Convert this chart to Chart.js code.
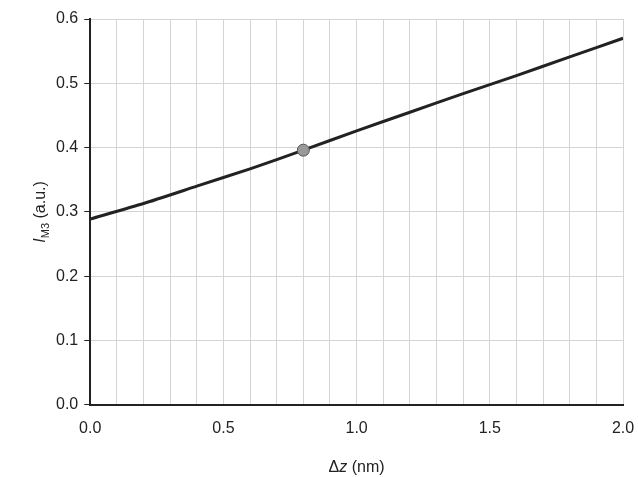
<!DOCTYPE html>
<html><head>
<script src="https://cdn.jsdelivr.net/npm/chart.js@4"></script>
<style>body{margin:0;background:#fff}#c{width:638px;height:477px}</style>
</head><body>
<div id="c"><canvas id="cv" width="638" height="477"></canvas></div>
<script>
const xVals = [0, 0.2, 0.4, 0.6, 0.8, 1.0, 1.2, 1.4, 1.6, 1.8, 2.0];
const yVals = [0.289, 0.313, 0.340, 0.367, 0.396, 0.426, 0.455, 0.484, 0.512, 0.541, 0.570];
const marker = [{x: 0.8, y: 0.396}];

const F = "Liberation Sans, Arial, sans-serif";

const titles = {
  id: "titles",
  afterDraw(c) {
    const g = c.ctx, a = c.chartArea;
    g.save();
    g.fillStyle = "#222";
    // x title
    g.textBaseline = "alphabetic";
    let y = 472, parts = [["Δ", "16px"], ["z", "italic 16px"], [" (nm)", "16px"]];
    let w = 0;
    parts.forEach(p => { g.font = p[1] + " " + F; w += g.measureText(p[0]).width; });
    let x = (a.left + a.right) / 2 - w / 2;
    parts.forEach(p => { g.font = p[1] + " " + F; g.fillText(p[0], x, y); x += g.measureText(p[0]).width; });
    // y title
    g.translate(45, (a.top + a.bottom) / 2);
    g.rotate(-Math.PI / 2);
    g.font = "italic 16px " + F; const w1 = g.measureText("I").width;
    g.font = "11px " + F; const w2 = g.measureText("M3").width;
    g.font = "16px " + F; const w3 = g.measureText(" (a.u.)").width;
    let sx = -(w1 + w2 + w3) / 2;
    g.font = "italic 16px " + F; g.fillText("I", sx, 0); sx += w1;
    g.font = "11px " + F; g.fillText("M3", sx, 4); sx += w2;
    g.font = "16px " + F; g.fillText(" (a.u.)", sx, 0);
    g.restore();
  }
};

new Chart(document.getElementById("cv"), {
  type: "scatter",
  data: { datasets: [
    { data: marker, pointRadius: 6, pointBackgroundColor: "#999", pointBorderColor: "#555", pointBorderWidth: 1, order: 0 },
    { data: xVals.map((v, i) => ({x: v, y: yVals[i]})), showLine: true, borderColor: "#222", borderWidth: 3, pointRadius: 0, tension: 0.2, order: 1 }
  ]},
  options: {
    responsive: false, animation: false,
    layout: { padding: { left: 50, right: 15, top: 19, bottom: 25 } },
    plugins: { legend: { display: false }, tooltip: { enabled: false } },
    scales: {
      x: { type: "linear", min: 0, max: 2,
        afterFit: s => { s.paddingRight = 0; },
        ticks: { stepSize: 0.1, color: "#222", padding: 14, font: { size: 16, family: F },
          callback: v => (Math.abs(v * 2 - Math.round(v * 2)) < 1e-6) ? v.toFixed(1) : "" , maxRotation: 0, autoSkip: false },
        grid: { color: "#d4d4d4", drawTicks: false },
        border: { color: "#222", width: 2 } },
      y: { min: 0, max: 0.6,
        ticks: { stepSize: 0.1, color: "#222", font: { size: 16, family: F }, padding: 6, callback: v => v.toFixed(1) },
        grid: { color: "#d4d4d4", tickLength: 6, tickColor: "#222" },
        border: { color: "#222", width: 2 } }
    }
  },
  plugins: [titles]
});
</script>
</body></html>
